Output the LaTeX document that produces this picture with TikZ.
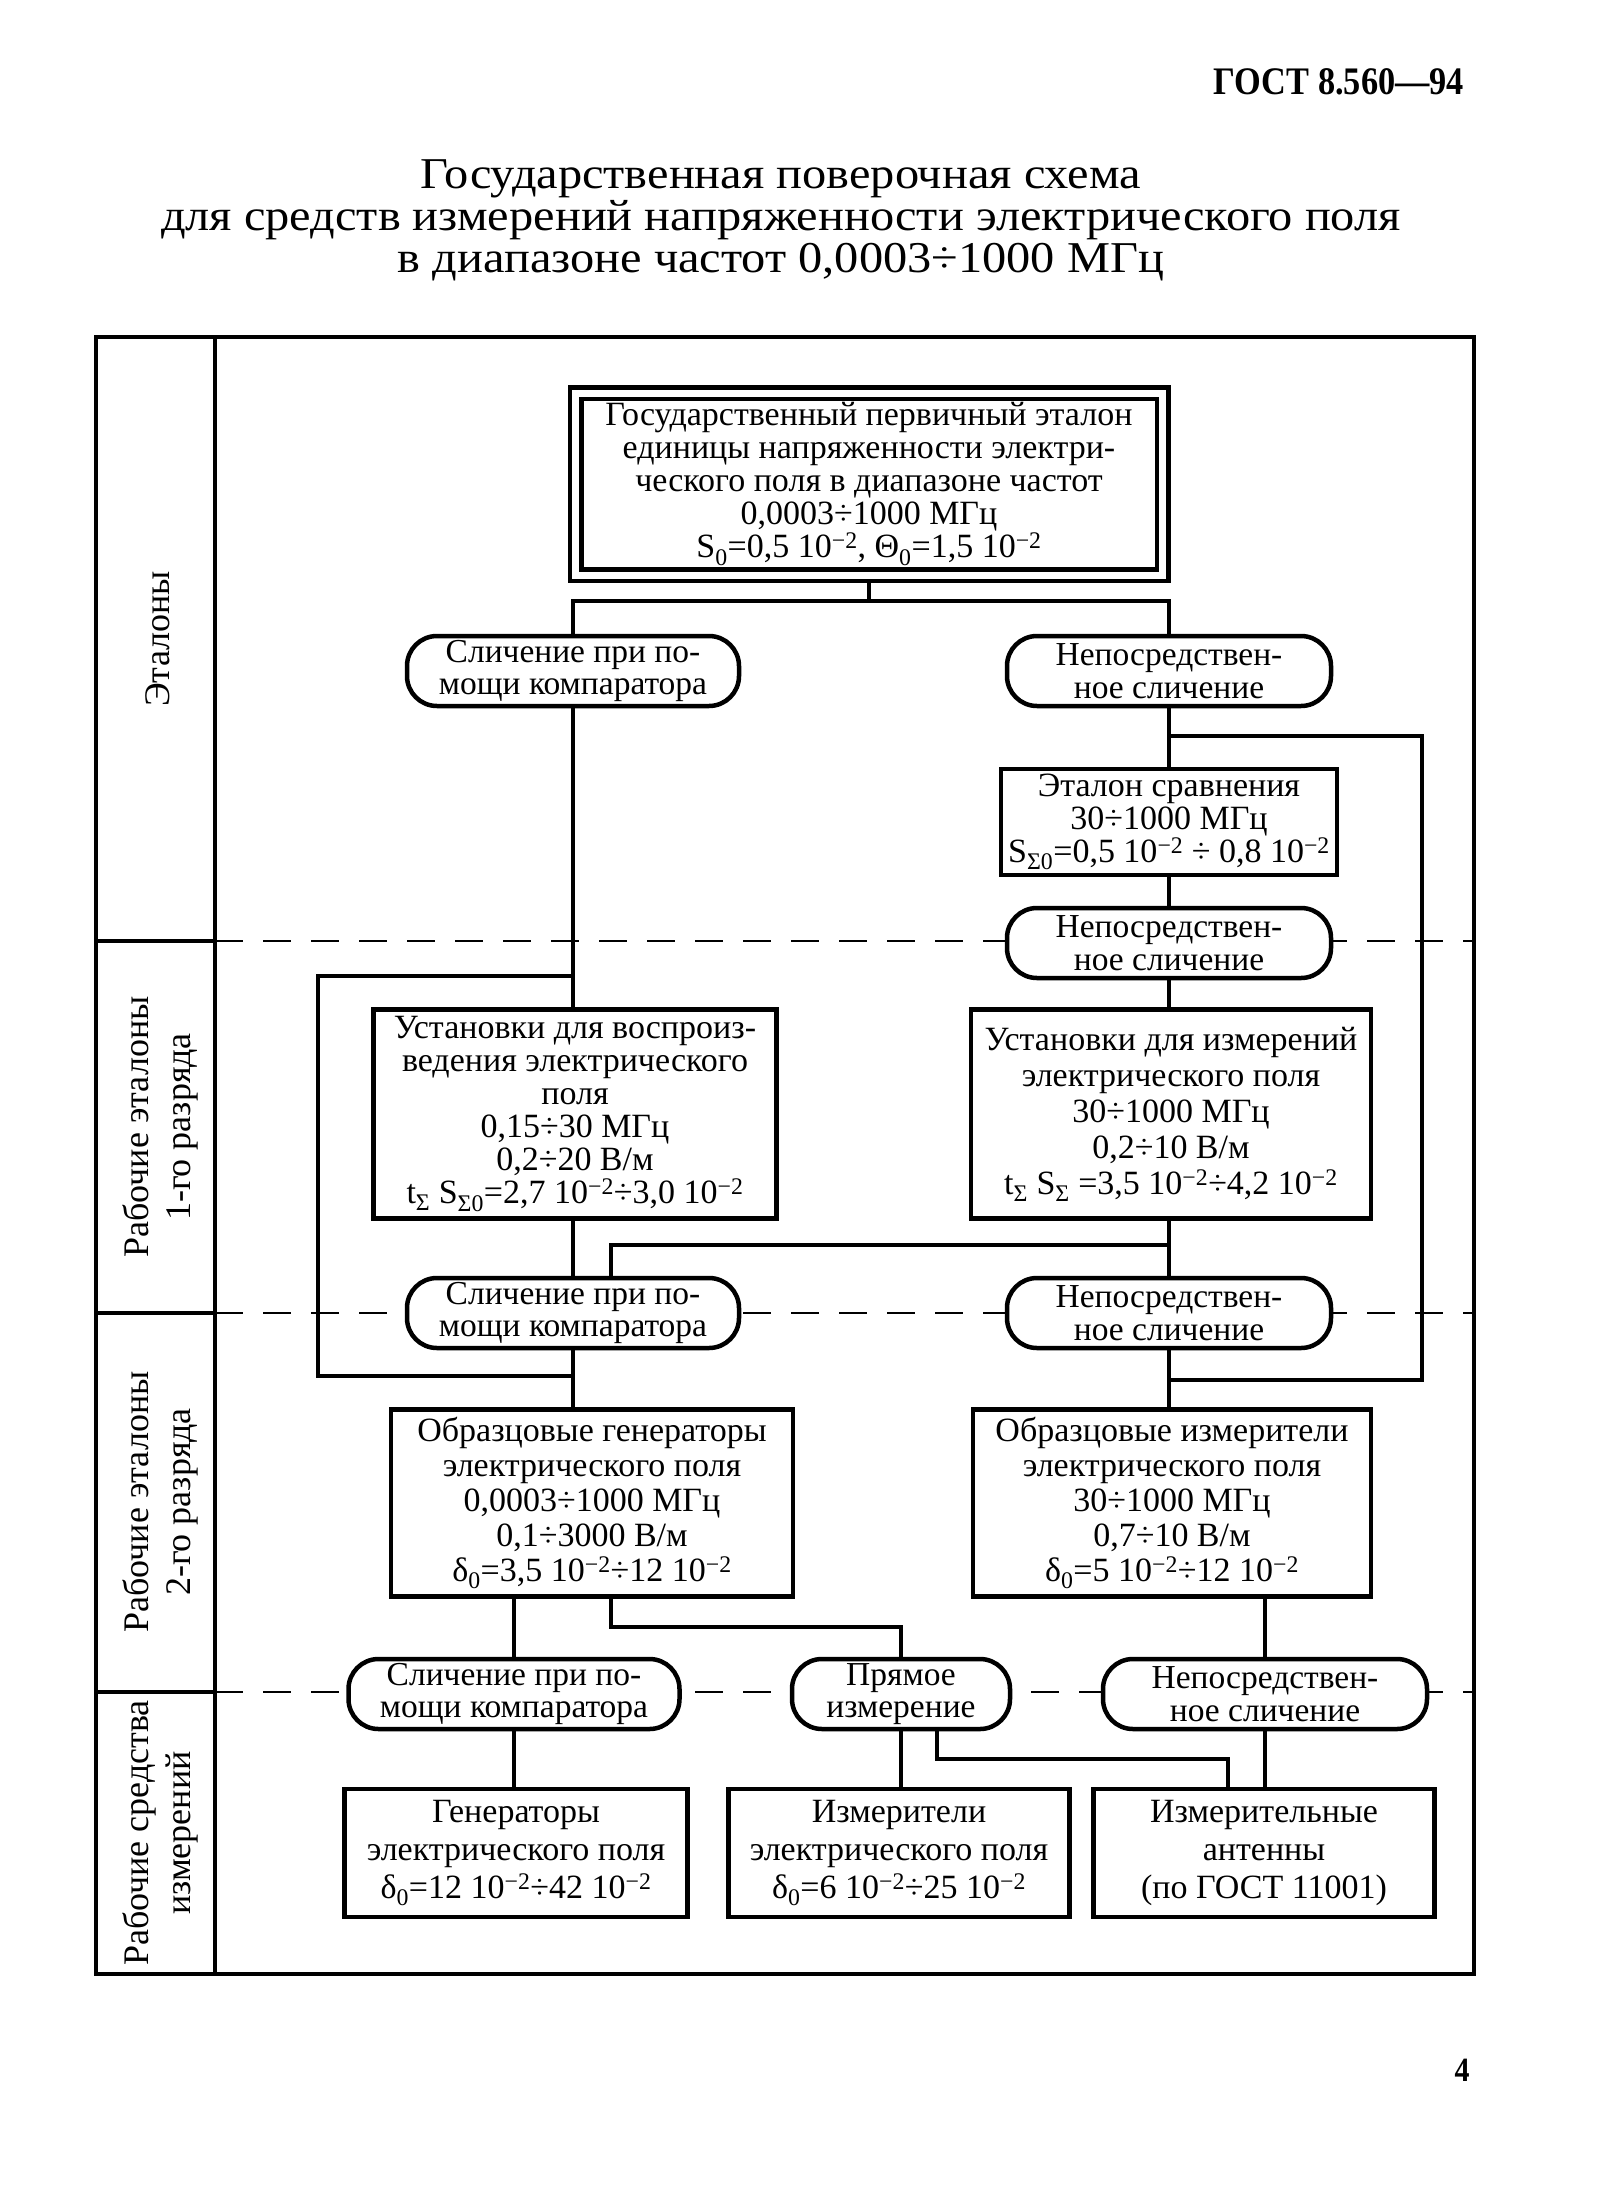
\documentclass[tikz,border=0pt]{standalone}
\usepackage{fontspec}
\setmainfont{Liberation Serif}
\newfontfamily\titlefont{Liberation Serif}[FakeStretch=1.1]
\newfontfamily\hdrfont{Liberation Serif}[FakeStretch=0.88]
\usetikzlibrary{backgrounds}
\newcommand{\mysup}[1]{\textsuperscript{#1}}
\newcommand{\mysub}[1]{\textsubscript{#1}}
\begin{document}
\begin{tikzpicture}[x=1pt,y=-1pt,
  box/.style={draw, line width=4.5pt, fill=white, align=center, inner sep=0pt},
  oval/.style={draw, line width=4.5pt, fill=white, align=center, inner sep=0pt, rounded corners=30pt,
    minimum height=70pt, font=\fontsize{33.5}{32.5}\selectfont},
  conn/.style={line width=4pt, line join=miter},
  dash line/.style={line width=2.5pt, dash pattern=on 28pt off 20pt},
  lbl/.style={rotate=90, align=center, font=\fontsize{36}{42}\selectfont},
  frame line/.style={line width=4pt}
]
\useasboundingbox (0,0) rectangle (1602,2208);

% header and title
\node[font=\hdrfont\bfseries\fontsize{39}{39}\selectfont] (hdr) at (1339,82) {ГОСТ 8.560—94};
\node[font=\titlefont\fontsize{44}{42}\selectfont, align=center] (title) at (781,220)
  {Государственная поверочная схема\\для средств измерений напряженности электрического поля\\в диапазоне частот 0,0003÷1000 МГц};

% frame
\draw[frame line] (96,337) rectangle (1474,1974);
\draw[frame line] (215,337) -- (215,1974);
\draw[frame line] (96,941) -- (215,941);
\draw[frame line] (96,1313) -- (215,1313);
\draw[frame line] (96,1692) -- (215,1692);

% row labels
\node[lbl] (l1) at (158,639) {Эталоны};
\node[lbl] (l2) at (160,1127) {Рабочие эталоны\\1-го разряда};
\node[lbl] (l3) at (160,1502) {Рабочие эталоны\\2-го разряда};
\node[lbl] (l4) at (160,1833) {Рабочие средства\\измерений};

% nodes
\node[box, double, double distance=7pt, minimum width=587pt, minimum height=182pt, font=\fontsize{34}{33}\selectfont] (top) at (869,484)
  {Государственный первичный эталон\\единицы напряженности электри-\\ческого поля в диапазоне частот\\0,0003÷1000 МГц\\S\mysub{0}=0,5 10\mysup{−2}, Θ\mysub{0}=1,5 10\mysup{−2}};

\node[oval, minimum width=332pt] (o1) at (573,671) {Сличение при по-\\мощи компаратора};
\node[oval, minimum width=324pt] (o2) at (1169,671) {Непосредствен-\\ное сличение};

\node[box, minimum width=336pt, minimum height=106pt, font=\fontsize{34}{33}\selectfont] (et) at (1169,822)
  {Эталон сравнения\\30÷1000 МГц\\S\mysub{Σ0}=0,5 10\mysup{−2} ÷ 0,8 10\mysup{−2}};

\node[oval, minimum width=324pt] (o3) at (1169,943) {Непосредствен-\\ное сличение};

\node[box, minimum width=403pt, minimum height=209pt, font=\fontsize{34}{33}\selectfont] (ustv) at (575,1114)
  {Установки для воспроиз-\\ведения электрического\\поля\\0,15÷30 МГц\\0,2÷20 В/м\\t\mysub{Σ} S\mysub{Σ0}=2,7 10\mysup{−2}÷3,0 10\mysup{−2}};
\node[box, minimum width=400pt, minimum height=209pt, font=\fontsize{34}{36}\selectfont] (usti) at (1171,1114)
  {Установки для измерений\\электрического поля\\30÷1000 МГц\\0,2÷10 В/м\\t\mysub{Σ} S\mysub{Σ} =3,5 10\mysup{−2}÷4,2 10\mysup{−2}};

\node[oval, minimum width=332pt] (o4) at (573,1313) {Сличение при по-\\мощи компаратора};
\node[oval, minimum width=324pt] (o5) at (1169,1313) {Непосредствен-\\ное сличение};

\node[box, minimum width=402pt, minimum height=187pt, font=\fontsize{34}{35}\selectfont] (obrg) at (592,1503)
  {Образцовые генераторы\\электрического поля\\0,0003÷1000 МГц\\0,1÷3000 В/м\\δ\mysub{0}=3,5 10\mysup{−2}÷12 10\mysup{−2}};
\node[box, minimum width=398pt, minimum height=187pt, font=\fontsize{34}{35}\selectfont] (obri) at (1172,1503)
  {Образцовые измерители\\электрического поля\\30÷1000 МГц\\0,7÷10 В/м\\δ\mysub{0}=5 10\mysup{−2}÷12 10\mysup{−2}};

\node[oval, minimum width=331pt] (o6) at (514,1694) {Сличение при по-\\мощи компаратора};
\node[oval, minimum width=218pt] (o7) at (901,1694) {Прямое\\измерение};
\node[oval, minimum width=324pt] (o8) at (1265,1694) {Непосредствен-\\ное сличение};

\node[box, minimum width=343pt, minimum height=128pt, font=\fontsize{34}{38}\selectfont] (gen) at (516,1853)
  {Генераторы\\электрического поля\\δ\mysub{0}=12 10\mysup{−2}÷42 10\mysup{−2}};
\node[box, minimum width=341pt, minimum height=128pt, font=\fontsize{34}{38}\selectfont] (izm) at (899,1853)
  {Измерители\\электрического поля\\δ\mysub{0}=6 10\mysup{−2}÷25 10\mysup{−2}};
\node[box, minimum width=341pt, minimum height=128pt, font=\fontsize{34}{38}\selectfont] (ant) at (1264,1853)
  {Измерительные\\антенны\\(по ГОСТ 11001)};

\node[font=\hdrfont\bfseries\fontsize{34}{34}\selectfont] (pg) at (1462,2070) {4};

\coordinate (j1) at (869,601);
\coordinate (lb1) at (318,976);
\coordinate (lb2) at (318,1376);
\coordinate (rb1) at (1422,736);
\coordinate (rb2) at (1422,1380);
\coordinate (c1) at (611,1245);
\coordinate (c2) at (611,1627);
\coordinate (c3) at (937,1759);
\coordinate (c4) at (1228,1759);

\begin{scope}[on background layer]
\fill[white] (0,0) rectangle (1602,2208);
\draw[dash line] (215,941) -- (1474,941);
\draw[dash line] (215,1313) -- (1474,1313);
\draw[dash line] (215,1692) -- (1474,1692);

\draw[conn] (top.south) -- (j1);
\draw[conn] (o1.north) -- (o1.north |- j1) -- (o2.north |- j1) -- (o2.north);
\draw[conn] (o1.south) -- (o1.south |- ustv.north);
\draw[conn] (o1.south |- lb1) -- (lb1) -- (lb2) -- (o4.south |- lb2);
\draw[conn] (o2.south) -- (et.north);
\draw[conn] (o2.south |- rb1) -- (rb1) -- (rb2) -- (o5.south |- rb2);
\draw[conn] (et.south) -- (o3.north);
\draw[conn] (o3.south) -- (o3.south |- usti.north);
\draw[conn] (o4.north |- ustv.south) -- (o4.north);
\draw[conn] (o5.north |- usti.south) -- (o5.north);
\draw[conn] (o5.north |- c1) -- (c1) -- (c1 |- o4.north);
\draw[conn] (o4.south) -- (o4.south |- obrg.north);
\draw[conn] (o5.south) -- (o5.south |- obri.north);
\draw[conn] (o6.north |- obrg.south) -- (o6.north);
\draw[conn] (c2 |- obrg.south) -- (c2) -| (o7.north);
\draw[conn] (o8.north |- obri.south) -- (o8.north);
\draw[conn] (o6.south) -- (o6.south |- gen.north);
\draw[conn] (o7.south) -- (o7.south |- izm.north);
\draw[conn] (c3 |- o7.south) -- (c3) -- (c4) -- (c4 |- ant.north);
\draw[conn] (o8.south) -- (o8.south |- ant.north);
\end{scope}
\end{tikzpicture}
\end{document}
